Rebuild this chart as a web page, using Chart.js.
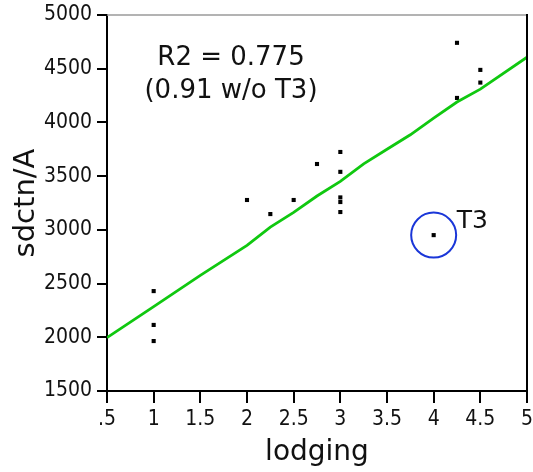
<!DOCTYPE html>
<html>
<head>
<meta charset="utf-8">
<script src="https://cdn.jsdelivr.net/npm/chart.js@4.4.0/dist/chart.umd.min.js"></script>
<style>
  html, body { margin: 0; padding: 0; background: #fff; }
  #c { display: block; }
</style>
</head>
<body>
<canvas id="c" width="533" height="472"></canvas>
<script>
// observed points (lodging score vs sdctn/A)
const lodging = [1, 1, 1, 2, 2.25, 2.5, 2.75, 3, 3, 3, 3, 3, 4, 4.25, 4.25, 4.5, 4.5];
const sdctn   = [2430, 2115, 1965, 3278, 3147, 3278, 3613, 3725, 3540, 3302, 3259, 3166, 2951, 4741, 4228, 4489, 4371];

// fitted (green) curve
const fitX = [0.5, 1, 1.5, 2, 2.25, 2.5, 2.75, 3, 3.25, 3.5, 3.75, 4, 4.25, 4.5, 5];
const fitY = [1997, 2285, 2577, 2855, 3025, 3162, 3315, 3451, 3615, 3750, 3885, 4040, 4190, 4310, 4607];

// outlier
const outlier = { name: 'T3', x: 4, y: 2951 };

const xTicks = [0.5, 1, 1.5, 2, 2.5, 3, 3.5, 4, 4.5, 5];
const annotation = ['R2 = 0.775', '(0.91 w/o T3)'];

const FONT = "'DejaVu Sans', Verdana, sans-serif";
const TICKFONT = "'DejaVu Sans Condensed', 'DejaVu Sans', sans-serif";

const frame = {
    id: 'frame',
    afterDatasetsDraw(chart) {
        const { ctx, chartArea: a, scales } = chart;
        ctx.save();
        // top (grey) and right (black) edges of the box
        ctx.lineWidth = 1.5;
        ctx.strokeStyle = '#9a9a9a';
        ctx.beginPath();
        ctx.moveTo(a.left, a.top);
        ctx.lineTo(a.right, a.top);
        ctx.stroke();
        ctx.lineWidth = 2;
        ctx.strokeStyle = '#000';
        ctx.beginPath();
        ctx.moveTo(a.right, a.top - 1);
        ctx.lineTo(a.right, a.bottom);
        ctx.stroke();

        // R2 text
        ctx.fillStyle = '#111';
        ctx.font = '26px ' + FONT;
        ctx.textAlign = 'center';
        ctx.textBaseline = 'alphabetic';
        ctx.fillText(annotation[0], a.left + 124, a.top + 50);
        ctx.fillText(annotation[1], a.left + 124, a.top + 83);

        // T3 label
        const px = scales.x.getPixelForValue(outlier.x);
        const py = scales.y.getPixelForValue(outlier.y);
        ctx.font = '25px ' + FONT;
        ctx.textAlign = 'left';
        ctx.fillText(outlier.name, px + 23, py - 7);
        ctx.restore();
    }
};

new Chart(document.getElementById('c').getContext('2d'), {
    type: 'scatter',
    plugins: [frame],
    data: {
        datasets: [{
            type: 'line',
            data: fitX.map((x, i) => ({ x, y: fitY[i] })),
            borderColor: '#10c810',
            borderWidth: 2.8,
            pointRadius: 0,
            tension: 0,
            fill: false
        }, {
            data: lodging.map((x, i) => ({ x, y: sdctn[i] })),
            pointStyle: 'rect',
            pointRadius: 2.9,
            pointBorderWidth: 0,
            backgroundColor: '#000'
        }, {
            data: [{ x: outlier.x, y: outlier.y }],
            pointStyle: 'circle',
            pointRadius: 22.5,
            pointBorderWidth: 2,
            borderColor: '#1a36d8',
            backgroundColor: 'rgba(0,0,0,0)'
        }]
    },
    options: {
        responsive: false,
        animation: false,
        layout: {
            autoPadding: false,
            padding: { top: 15, right: 6, left: 9, bottom: 0 }
        },
        plugins: {
            legend: { display: false },
            tooltip: { enabled: false }
        },
        scales: {
            x: {
                type: 'linear',
                min: 0.5,
                max: 5,
                afterFit: (s) => { s.height = 81; s.paddingLeft = 0; s.paddingRight = 0; },
                afterBuildTicks: (s) => { s.ticks = xTicks.map((v) => ({ value: v })); },
                grid: { drawOnChartArea: false, tickLength: 12, lineWidth: 2, color: '#000' },
                border: { color: '#000', width: 2 },
                ticks: {
                    color: '#111',
                    padding: 4,
                    maxRotation: 0,
                    font: { size: 21, family: TICKFONT },
                    callback: (v) => v === 0.5 ? '.5' : String(v)
                },
                title: {
                    display: true,
                    text: 'lodging',
                    color: '#111',
                    font: { size: 28, family: FONT },
                    padding: { top: 0, bottom: 2 }
                }
            },
            y: {
                min: 1500,
                max: 5000,
                afterFit: (s) => { s.width = 98; s.paddingTop = 0; s.paddingBottom = 0; },
                grid: { drawOnChartArea: false, tickLength: 10, lineWidth: 2, color: '#000' },
                border: { color: '#000', width: 2 },
                ticks: {
                    stepSize: 500,
                    color: '#111',
                    padding: 5,
                    font: { size: 21, family: TICKFONT },
                    callback: (v) => String(v)
                },
                title: {
                    display: true,
                    text: 'sdctn/A',
                    color: '#111',
                    font: { size: 29, family: FONT },
                    padding: { top: 0, bottom: 0 }
                }
            }
        }
    }
});
</script>
</body>
</html>
